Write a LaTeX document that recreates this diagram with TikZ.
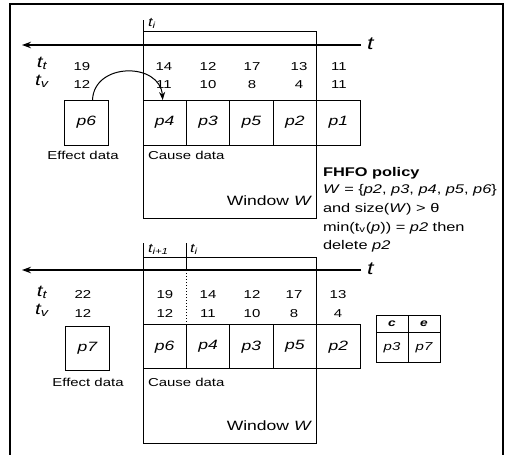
\documentclass[tikz,border=0pt]{standalone}
\usepackage{fontspec}
\setmainfont{Liberation Sans}
\usepackage{graphicx}
\usetikzlibrary{arrows.meta}
\newcommand{\hs}[1]{\scalebox{1.3}[1]{#1}}
\begin{document}
\begin{tikzpicture}[x=1pt,y=-1pt,
  every node/.style={inner sep=0pt, outer sep=0pt},
  ln/.style={line width=1pt},
  frame/.style={line width=1.4pt},
  cell/.style={draw, line width=1pt, minimum width=43.4pt, minimum height=45pt, font=\fontsize{13.5}{15}\selectfont\itshape},
  cellb/.style={cell, minimum height=43.5pt},
  num/.style={anchor=base, font=\fontsize{11.5}{13}\selectfont},
  capc/.style={anchor=base, font=\fontsize{11.5}{13}\selectfont},
  capw/.style={anchor=base west, font=\fontsize{11.5}{13}\selectfont},
  win/.style={anchor=base east, font=\fontsize{13.5}{15}\selectfont},
  pol/.style={anchor=base west, font=\fontsize{12.6}{15}\selectfont},
  tl/.style={anchor=base, font=\fontsize{16}{18}\selectfont\itshape},
  ti/.style={anchor=base west, font=\fontsize{12.5}{14}\selectfont\itshape},
  tax/.style={anchor=base west, font=\fontsize{18}{20}\selectfont\itshape},
  axis/.style={line width=1.1pt, -{Stealth[length=9pt,width=6.5pt]}},
  tcell/.style={draw, line width=1pt, minimum width=32pt},
  ]
\useasboundingbox (0,0) rectangle (506,455);
% outer frame
\draw[frame] (10,470) -- (10,4) -- (503,4) -- (503,470);

% ================= top section =================
\draw[ln] (143,20) -- (143,218) -- (316.6,218) -- (316.6,31) -- (143,31);
\node[ti] (ti1) at (148,26) {\hs{t\textsubscript{i}}};
\coordinate (a1s) at (361,45);
\coordinate (a1e) at (22,45);
\draw[axis] (a1s) -- (a1e);
\node[tax] (tA1) at (367,49) {\hs{t}};

\node[tl] (lt1) at (42,67) {\hs{t\textsubscript{t}}};
\node[tl] (lv1) at (42,85) {\hs{t\textsubscript{v}}};

\node[num] (t1a) at (82,70) {\hs{19}};
\node[num] (t1b) at (164,70) {\hs{14}};
\node[num] (t1c) at (208,70) {\hs{12}};
\node[num] (t1d) at (252,70) {\hs{17}};
\node[num] (t1e) at (299,70) {\hs{13}};
\node[num] (t1f) at (339,70) {\hs{11}};
\node[num] (v1a) at (82,88) {\hs{12}};
\node[num] (v1b) at (164,88) {\hs{11}};
\node[num] (v1c) at (208,88) {\hs{10}};
\node[num] (v1d) at (252,88) {\hs{8}};
\node[num] (v1e) at (299,88) {\hs{4}};
\node[num] (v1f) at (339,88) {\hs{11}};

\node[cell] (p6a) at (86.5,122.5) {\hs{p6}};
\node[cell] (p4a) at (164.7,122.5) {\hs{p4}};
\node[cell] (p3a) at (208.1,122.5) {\hs{p3}};
\node[cell] (p5a) at (251.5,122.5) {\hs{p5}};
\node[cell] (p2a) at (294.9,122.5) {\hs{p2}};
\node[cell] (p1a) at (338.3,122.5) {\hs{p1}};

\draw[ln, -{Stealth[length=8pt,width=6pt]}] ([xshift=6pt]p6a.north) .. controls (94,62) and (160,62) .. ([xshift=-2pt]p4a.north);

\node[capc] (eff1) at (83,159) {\hs{Effect data}};
\node[capw] (cau1) at (148,159) {\hs{Cause data}};
\node[win] (win1) at (312,205) {\hs{Window \textit{W}}};

\node[pol] (f1) at (323,176) {\hs{\textbf{FHFO policy}}};
\node[pol] (f2) at (323,193) {\hs{\textit{W} = \{\textit{p2}, \textit{p3}, \textit{p4}, \textit{p5}, \textit{p6}\}}};
\node[pol] (f3) at (323,212) {\hs{and size(\textit{W}) > θ}};
\node[pol] (f4) at (323,231) {\hs{min(t\textsubscript{v}(\textit{p})) = \textit{p2} then}};
\node[pol] (f5) at (323,249) {\hs{delete \textit{p2}}};

% ================= bottom section =================
\draw[ln] (143,243) -- (143,443) -- (316.6,443) -- (316.6,257) -- (143,257);
\coordinate (tk1) at (186.4,243);
\coordinate (tk2) at (186.4,270);
\coordinate (tk3) at (186.4,325);
\draw[ln] (tk1) -- (tk2);
\draw[ln, dotted] (tk2) -- (tk3);
\node[ti] (ti2) at (148,252) {\hs{t\textsubscript{i+1}}};
\node[ti] (ti3) at (190,252) {\hs{t\textsubscript{i}}};
\coordinate (a2s) at (361,270);
\coordinate (a2e) at (22,270);
\draw[axis] (a2s) -- (a2e);
\node[tax] (tA2) at (367,274) {\hs{t}};

\node[tl] (lt2) at (42,296) {\hs{t\textsubscript{t}}};
\node[tl] (lv2) at (42,314) {\hs{t\textsubscript{v}}};

\node[num] (t2a) at (83,298) {\hs{22}};
\node[num] (t2b) at (165,298) {\hs{19}};
\node[num] (t2c) at (208,298) {\hs{14}};
\node[num] (t2d) at (252,298) {\hs{12}};
\node[num] (t2e) at (294,298) {\hs{17}};
\node[num] (t2f) at (338,298) {\hs{13}};
\node[num] (v2a) at (83,317) {\hs{12}};
\node[num] (v2b) at (165,317) {\hs{12}};
\node[num] (v2c) at (208,317) {\hs{11}};
\node[num] (v2d) at (252,317) {\hs{10}};
\node[num] (v2e) at (294,317) {\hs{8}};
\node[num] (v2f) at (338,317) {\hs{4}};

\node[cellb] (p7b) at (87.5,348.5) {\hs{p7}};
\node[cellb] (p6b) at (164.7,346.7) {\hs{p6}};
\node[cellb] (p4b) at (208.1,346.7) {\hs{p4}};
\node[cellb] (p3b) at (251.5,346.7) {\hs{p3}};
\node[cellb] (p5b) at (294.9,346.7) {\hs{p5}};
\node[cellb] (p2b) at (338.3,346.7) {\hs{p2}};

\node[capc] (eff2) at (88,386) {\hs{Effect data}};
\node[capw] (cau2) at (148,386) {\hs{Cause data}};
\node[win] (win2) at (312,430) {\hs{Window \textit{W}}};

% c / e table
\node[tcell, minimum height=17.5pt, font=\fontsize{10.5}{12}\selectfont\bfseries\itshape] (hc) at (392,323.75) {\hs{c}};
\node[tcell, minimum height=17.5pt, font=\fontsize{10.5}{12}\selectfont\bfseries\itshape] (he) at (424,323.75) {\hs{e}};
\node[tcell, minimum height=30pt, font=\fontsize{11.5}{13}\selectfont\itshape] (bc) at (392,347.5) {\hs{p3}};
\node[tcell, minimum height=30pt, font=\fontsize{11.5}{13}\selectfont\itshape] (be) at (424,347.5) {\hs{p7}};
\end{tikzpicture}
\end{document}
